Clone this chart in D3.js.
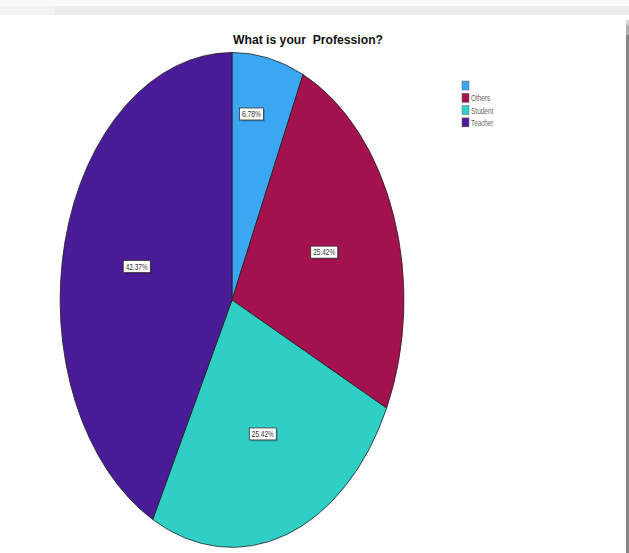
<!DOCTYPE html>
<html>
<head>
<meta charset="utf-8">
<script src="https://cdn.jsdelivr.net/npm/d3@7/dist/d3.min.js"></script>
<style>
  html, body { margin: 0; padding: 0; background: #fff; }
  svg { display: block; }
  text { white-space: pre; }
</style>
</head>
<body>
<svg id="chart" width="629" height="553"></svg>
<script>
const categories = ["", "Others", "Student", "Teacher"];
const values = [6.78, 25.42, 25.42, 42.37];
const colors = ["#3ba7f2", "#a3124e", "#2fcfc5", "#4a1b97"];
const title = "What is your  Profession?";

const svg = d3.select("#chart");
const W = 629, H = 553;

// page chrome
svg.append("rect").attr("x", 0).attr("y", 0).attr("width", W).attr("height", 6).attr("fill", "#fafafa");
svg.append("rect").attr("x", 0).attr("y", 6).attr("width", W).attr("height", 9).attr("fill", "#ececec");
svg.append("rect").attr("x", 0).attr("y", 6).attr("width", 55).attr("height", 9).attr("fill", "#f3f3f3");
svg.append("rect").attr("x", 626).attr("y", 20).attr("width", 3).attr("height", 5).attr("fill", "#d6d6d6");
svg.append("rect").attr("x", 626).attr("y", 25).attr("width", 3).attr("height", 10).attr("fill", "#b0b0b0");
svg.append("rect").attr("x", 626).attr("y", 35).attr("width", 3).attr("height", H - 35).attr("fill", "#858585");

const font = "'Liberation Sans Narrow', 'Arial Narrow', 'Liberation Sans', sans-serif";

svg.append("text")
  .attr("x", 308).attr("y", 44)
  .attr("text-anchor", "middle")
  .attr("font-family", font)
  .attr("font-weight", "bold")
  .attr("font-size", 12)
  .attr("textLength", 150)
  .attr("lengthAdjust", "spacingAndGlyphs")
  .attr("fill", "#111")
  .text(title);

const cx = 232, cy = 300, rx = 172, ry = 247.5;
const data = categories.map((c, i) => ({ cat: c, value: values[i], color: colors[i] }));
const pie = d3.pie().sort(null).value(d => d.value).startAngle(0).endAngle(2 * Math.PI);
const arcs = pie(data);
const arc = d3.arc().innerRadius(0).outerRadius(1);

const g = svg.append("g").attr("transform", `translate(${cx},${cy}) scale(${rx},${ry})`);
g.selectAll("path").data(arcs).join("path")
  .attr("d", arc)
  .attr("fill", d => d.data.color)
  .attr("stroke", "#222")
  .attr("stroke-width", 0.8)
  .attr("vector-effect", "non-scaling-stroke");

// labels
const fmt = d3.format(".2f");
const lg = svg.append("g");
arcs.forEach(d => {
  const small = d.data.value < 10;
  const r = small ? 0.76 : 0.57;
  const a = small ? d.startAngle + (d.endAngle - d.startAngle) * 0.35 : (d.startAngle + d.endAngle) / 2;
  const x = cx + Math.sin(a) * r * rx, y = cy - Math.cos(a) * r * ry;
  const label = fmt(d.data.value) + "%";
  const bw = small ? 24 : 27, bh = 12;
  lg.append("rect")
    .attr("x", x - bw / 2 + 1.5).attr("y", y - bh / 2 + 1.5)
    .attr("width", bw).attr("height", bh)
    .attr("fill", "#000").attr("opacity", 0.2);
  lg.append("rect")
    .attr("x", x - bw / 2).attr("y", y - bh / 2)
    .attr("width", bw).attr("height", bh)
    .attr("fill", "#fff").attr("stroke", "#333").attr("stroke-width", 0.8);
  lg.append("text")
    .attr("x", x).attr("y", y + 3)
    .attr("text-anchor", "middle")
    .attr("font-family", font)
    .attr("font-size", 8.5)
    .attr("textLength", bw - 5)
    .attr("lengthAdjust", "spacingAndGlyphs")
    .attr("fill", "#333")
    .text(label);
});

// legend
const leg = svg.append("g");
data.forEach((d, i) => {
  const y = 81 + i * 12.3;
  leg.append("rect")
    .attr("x", 462).attr("y", y)
    .attr("width", 7).attr("height", 9)
    .attr("fill", d.color).attr("stroke", "#666").attr("stroke-width", 0.5);
  if (d.cat) {
    leg.append("text")
      .attr("x", 471).attr("y", y + 8)
      .attr("font-family", font)
      .attr("font-size", 9)
      .attr("textLength", d.cat.length * 3.2)
      .attr("lengthAdjust", "spacingAndGlyphs")
      .attr("fill", "#666")
      .text(d.cat);
  }
});
</script>
</body>
</html>
